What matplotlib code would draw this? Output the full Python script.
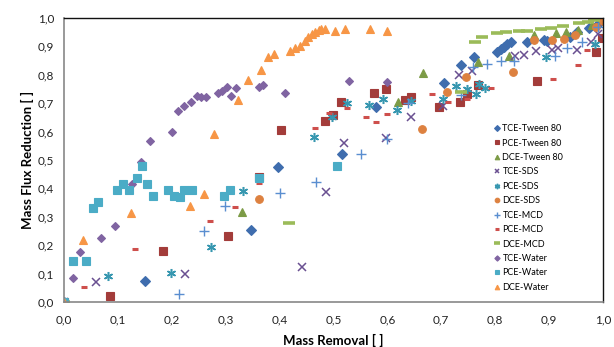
import matplotlib
matplotlib.use('Agg')
import matplotlib.pyplot as plt
from matplotlib.ticker import FuncFormatter, MultipleLocator

### DATA (mass removal, mass flux reduction)
tce_tween_x = [0.0, 0.151, 0.347, 0.397, 0.515, 0.578, 0.706, 0.736, 0.761, 0.804, 0.810, 0.816, 0.822, 0.829, 0.860, 0.891, 0.897, 0.939, 0.952, 0.975, 0.990, 1.0]
tce_tween_y = [0.0, 0.075, 0.253, 0.475, 0.521, 0.687, 0.770, 0.833, 0.864, 0.881, 0.890, 0.898, 0.907, 0.916, 0.917, 0.923, 0.920, 0.932, 0.951, 0.965, 0.980, 1.0]

pce_tween_x = [0.0, 0.086, 0.183, 0.304, 0.362, 0.403, 0.485, 0.499, 0.514, 0.575, 0.597, 0.633, 0.644, 0.695, 0.735, 0.747, 0.769, 0.877, 0.988, 0.998]
pce_tween_y = [0.0, 0.022, 0.181, 0.234, 0.440, 0.604, 0.636, 0.658, 0.703, 0.735, 0.749, 0.711, 0.721, 0.688, 0.703, 0.732, 0.765, 0.779, 0.879, 0.930]

dce_tween_x = [0.0, 0.331, 0.619, 0.667, 0.769, 0.826, 0.872, 0.913, 0.931, 0.953, 0.980, 1.0]
dce_tween_y = [0.0, 0.318, 0.704, 0.806, 0.846, 0.865, 0.939, 0.948, 0.952, 0.958, 0.975, 1.0]

tce_sds_x = [0.0, 0.059, 0.225, 0.442, 0.486, 0.519, 0.597, 0.643, 0.704, 0.733, 0.757, 0.836, 0.854, 0.875, 0.905, 0.916, 0.952, 0.977, 0.990, 1.0]
tce_sds_y = [0.0, 0.069, 0.099, 0.123, 0.386, 0.560, 0.579, 0.651, 0.690, 0.798, 0.814, 0.865, 0.871, 0.885, 0.888, 0.896, 0.886, 0.914, 0.945, 0.985]

pce_sds_x = [0.0, 0.082, 0.198, 0.272, 0.333, 0.464, 0.498, 0.526, 0.566, 0.592, 0.617, 0.643, 0.704, 0.727, 0.748, 0.765, 0.770, 0.781, 0.895, 0.985, 1.0]
pce_sds_y = [0.0, 0.093, 0.101, 0.195, 0.392, 0.580, 0.650, 0.700, 0.692, 0.716, 0.675, 0.709, 0.716, 0.762, 0.751, 0.733, 0.766, 0.752, 0.862, 0.908, 0.990]

dce_sds_x = [0.0, 0.361, 0.664, 0.711, 0.746, 0.833, 0.872, 0.906, 0.928, 0.949, 0.988, 1.0]
dce_sds_y = [0.0, 0.362, 0.610, 0.738, 0.793, 0.811, 0.923, 0.921, 0.925, 0.939, 0.967, 0.990]

tce_mcd_x = [0.0, 0.213, 0.260, 0.298, 0.401, 0.467, 0.551, 0.600, 0.639, 0.736, 0.758, 0.784, 0.810, 0.835, 0.911, 0.934, 0.961, 0.990]
tce_mcd_y = [0.0, 0.028, 0.249, 0.339, 0.383, 0.424, 0.521, 0.574, 0.700, 0.729, 0.829, 0.838, 0.849, 0.850, 0.866, 0.893, 0.917, 0.970]

pce_mcd_x = [0.0, 0.038, 0.132, 0.270, 0.318, 0.362, 0.465, 0.491, 0.525, 0.561, 0.579, 0.599, 0.682, 0.713, 0.747, 0.792, 0.908, 0.954, 0.970]
pce_mcd_y = [0.0, 0.052, 0.186, 0.285, 0.336, 0.418, 0.612, 0.664, 0.683, 0.653, 0.633, 0.662, 0.733, 0.703, 0.715, 0.755, 0.785, 0.834, 0.887]

dce_mcd_x = [0.0, 0.418, 0.736, 0.762, 0.776, 0.803, 0.820, 0.844, 0.860, 0.885, 0.903, 0.926, 0.955, 0.972, 0.984]
dce_mcd_y = [0.0, 0.278, 0.740, 0.917, 0.932, 0.946, 0.950, 0.956, 0.956, 0.961, 0.964, 0.972, 0.981, 0.987, 0.993]

tce_water_x = [0.0, 0.016, 0.030, 0.069, 0.094, 0.126, 0.143, 0.159, 0.200, 0.211, 0.222, 0.236, 0.247, 0.255, 0.264, 0.286, 0.294, 0.302, 0.309, 0.319, 0.362, 0.370, 0.411, 0.528, 0.600]
tce_water_y = [0.0, 0.086, 0.176, 0.224, 0.267, 0.417, 0.493, 0.566, 0.599, 0.672, 0.689, 0.704, 0.727, 0.722, 0.722, 0.737, 0.742, 0.758, 0.727, 0.754, 0.757, 0.764, 0.737, 0.779, 0.773]

pce_water_x = [0.0, 0.017, 0.040, 0.053, 0.064, 0.099, 0.109, 0.120, 0.135, 0.145, 0.154, 0.165, 0.193, 0.204, 0.215, 0.223, 0.237, 0.297, 0.308, 0.361, 0.506]
pce_water_y = [0.0, 0.146, 0.146, 0.332, 0.353, 0.394, 0.415, 0.394, 0.437, 0.479, 0.415, 0.374, 0.394, 0.374, 0.370, 0.394, 0.394, 0.374, 0.394, 0.437, 0.478]

dce_water_x = [0.0, 0.036, 0.125, 0.234, 0.259, 0.279, 0.322, 0.341, 0.366, 0.379, 0.390, 0.419, 0.428, 0.437, 0.447, 0.453, 0.460, 0.466, 0.473, 0.477, 0.484, 0.502, 0.521, 0.567, 0.600]
dce_water_y = [0.0, 0.218, 0.312, 0.339, 0.379, 0.592, 0.712, 0.781, 0.816, 0.864, 0.872, 0.885, 0.893, 0.900, 0.920, 0.932, 0.944, 0.950, 0.958, 0.961, 0.961, 0.955, 0.961, 0.960, 0.955]

### SERIES STYLES (label, x, y, marker, colour, size, edge width)
series = [
    ('TCE-Tween 80', tce_tween_x, tce_tween_y, 'D', '#3F6DAE', 5.0, 0.8),
    ('PCE-Tween 80', pce_tween_x, pce_tween_y, 's', '#A33C3A', 5.5, 0.8),
    ('DCE-Tween 80', dce_tween_x, dce_tween_y, '^', '#7C9B46', 5.5, 0.8),
    ('TCE-SDS', tce_sds_x, tce_sds_y, 'x', '#6A5091', 5.5, 1.1),
    ('PCE-SDS', pce_sds_x, pce_sds_y, (6, 2, 0), '#3797B0', 6.5, 1.1),
    ('DCE-SDS', dce_sds_x, dce_sds_y, 'o', '#DD8140', 5.5, 0.8),
    ('TCE-MCD', tce_mcd_x, tce_mcd_y, '+', '#5A8ED0', 6.5, 1.0),
    ('PCE-MCD', pce_mcd_x, pce_mcd_y, '_', '#CE4F4C', 4.5, 2.2),
    ('DCE-MCD', dce_mcd_x, dce_mcd_y, '_', '#9BBB59', 8.0, 2.6),
    ('TCE-Water', tce_water_x, tce_water_y, 'D', '#8064A2', 4.5, 0.8),
    ('PCE-Water', pce_water_x, pce_water_y, 's', '#4BACC6', 5.5, 0.8),
    ('DCE-Water', dce_water_x, dce_water_y, '^', '#F79646', 5.5, 0.8),
]

plt.rcParams['font.family'] = ['Lato', 'DejaVu Sans']

fig = plt.figure(figsize=(6.14, 3.47), dpi=100)
ax = fig.add_axes([0.1042, 0.1297, 0.8778, 0.8184])

for label, xs, ys, marker, color, size, mew in series:
    ax.plot(xs, ys, linestyle='none', marker=marker, color=color, markersize=size,
            markeredgewidth=mew, label=label)

ax.set_xlim(0, 1)
ax.set_ylim(0, 1)
ax.xaxis.set_major_locator(MultipleLocator(0.1))
ax.yaxis.set_major_locator(MultipleLocator(0.1))
comma = FuncFormatter(lambda v, pos: f'{v:.1f}'.replace('.', ','))
ax.xaxis.set_major_formatter(comma)
ax.yaxis.set_major_formatter(comma)
ax.tick_params(length=0, labelsize=8.5, colors='#222222')
ax.tick_params(axis='x', pad=9)
ax.tick_params(axis='y', pad=7)

for side in ['left', 'bottom']:
    ax.spines[side].set_color('#878787')
    ax.spines[side].set_linewidth(1.2)
for side in ['top', 'right']:
    ax.spines[side].set_color('#111111')
    ax.spines[side].set_linewidth(1.0)

ax.set_xlabel('Mass Removal [ ]', fontsize=9.5, fontweight='bold', labelpad=6)
ax.set_ylabel('Mass Flux Reduction [ ]', fontsize=9.5, fontweight='bold', labelpad=3)

leg = ax.legend(loc='upper left', bbox_to_anchor=(0.797, 0.655), bbox_transform=fig.transFigure,
                frameon=False, fontsize=6.5, markerscale=0.6, handlelength=0.6,
                handletextpad=0.35, labelspacing=0.6, borderpad=0)

fig.savefig('out.png', dpi=100)
